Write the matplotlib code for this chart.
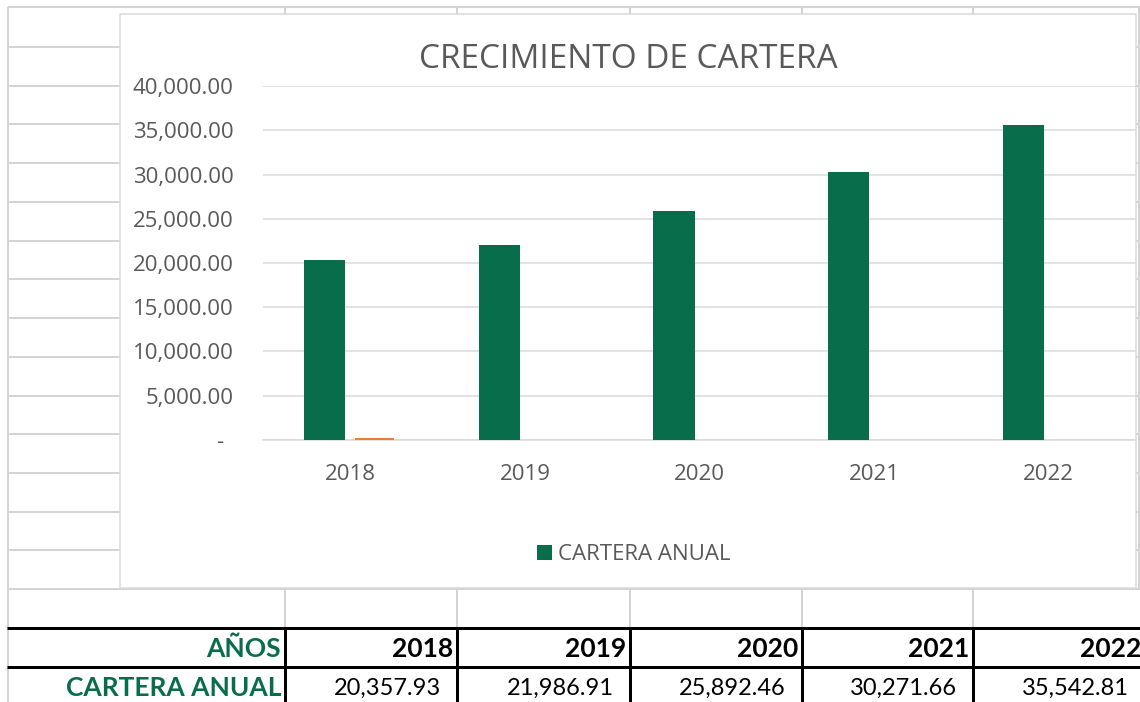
import matplotlib
matplotlib.use("Agg")
import matplotlib.pyplot as plt
import numpy as np
from matplotlib.patches import Rectangle
from matplotlib.transforms import ScaledTranslation

# ---------------- data ----------------
years = ["2018", "2019", "2020", "2021", "2022"]
cartera_anual = [20357.93, 21986.91, 25892.46, 30271.66, 35542.81]
serie_2 = [250, 0, 0, 0, 0]
y_ticks = [0, 5000, 10000, 15000, 20000, 25000, 30000, 35000, 40000]
chart_title = "CRECIMIENTO DE CARTERA"
series_name = "CARTERA ANUAL"
row_header = "AÑOS"

# ---------------- style ----------------
plt.rcParams['font.family'] = ['Open Sans', 'DejaVu Sans']
GREEN = '#076D4B'
ORANGE = '#ED7D31'
TXT = '#595959'
SHEET = '#D4D4D4'
GRIDC = '#D9D9D9'
PX = 0.72  # points per pixel at dpi 100

W, H = 1140, 702
fig = plt.figure(figsize=(W / 100, H / 100), dpi=100)

# background: spreadsheet grid in pixel coordinates
bg = fig.add_axes([0, 0, 1, 1], zorder=0)
bg.set_xlim(0, W)
bg.set_ylim(H, 0)
bg.axis('off')

row_y = 47 + 38.73 * np.arange(15)
col_x = [285, 457, 630, 802, 973]
col_right = [457, 630, 802, 973, 1145]

bg.hlines(7, 8, W, color=SHEET, lw=2 * PX)
bg.vlines(8, 7, H, color=SHEET, lw=2 * PX)
bg.hlines(row_y, 8, 120, color=SHEET, lw=2 * PX)
bg.hlines(row_y, 1136, W, color=SHEET, lw=2 * PX)
bg.hlines(589, 8, W, color=SHEET, lw=2 * PX)
bg.vlines(col_x, 7, 14, color=SHEET, lw=2 * PX)
bg.vlines(col_x, 589, 628, color=SHEET, lw=2 * PX)
bg.vlines(1139, 7, 589, color=SHEET, lw=2 * PX)

# chart area box
bg.add_patch(Rectangle((120, 14), 1016, 574, facecolor='white',
                       edgecolor=GRIDC, lw=1.5 * PX, zorder=2))

# table with thick borders
bg.hlines([628, 667], 7, W, color='black', lw=3 * PX, zorder=3)
bg.vlines(col_x, 628, H, color='black', lw=3 * PX, zorder=3)

TFONT = ['Lato', 'DejaVu Sans']
bg.text(281, 649, row_header, ha='right', va='center', fontsize=19,
        fontweight='bold', color=GREEN, family=TFONT, zorder=4)
bg.text(281, 688, series_name, ha='right', va='center', fontsize=19,
        fontweight='bold', color=GREEN, family=TFONT, zorder=4)
for i, (yr, val) in enumerate(zip(years, cartera_anual)):
    bg.text(col_right[i] - 4, 649, yr, ha='right', va='center', fontsize=19,
            fontweight='bold', color='black', family=TFONT, zorder=4)
    bg.text(col_right[i] - 16, 688, f"{val:,.2f}", ha='right', va='center',
            fontsize=17, color='black', family=TFONT, zorder=4)

# title
fig.text(628 / W, 1 - 59 / H, chart_title, ha='center', va='center',
         fontsize=24, color=TXT)

# ---------------- chart ----------------
ax = fig.add_axes([263 / W, 1 - 440 / H, (1136 - 263) / W, (440 - 86) / H], zorder=5)
ax.patch.set_visible(False)
x = np.arange(len(years))
bars = ax.bar(x - 0.146, cartera_anual, width=0.235, color=GREEN, zorder=3,
              label=series_name)
ax.bar(x + 0.139, serie_2, width=0.225, color=ORANGE, zorder=3)

ax.set_xlim(-0.5, len(years) - 0.5)
ax.set_ylim(y_ticks[0], y_ticks[-1])
ax.set_yticks(y_ticks)
ax.set_yticklabels([f"{v:,.2f}" if v else "-" for v in y_ticks])
ax.set_xticks(x)
ax.set_xticklabels(years)
ax.grid(axis='y', color=GRIDC, lw=1.5 * PX)
ax.set_axisbelow(True)
for s in ['top', 'right', 'left']:
    ax.spines[s].set_visible(False)
ax.spines['bottom'].set_color(GRIDC)
ax.spines['bottom'].set_linewidth(1.5 * PX)
ax.tick_params(axis='both', length=0, labelsize=16, labelcolor=TXT)
ax.tick_params(axis='y', pad=21)
ax.tick_params(axis='x', pad=17)

zero_lbl = ax.yaxis.get_major_ticks()[0].label1
zero_lbl.set_transform(zero_lbl.get_transform() +
                       ScaledTranslation(-11 / 100, 0, fig.dpi_scale_trans))

ax.legend(handles=[bars], loc='center', bbox_to_anchor=(634 / W, 1 - 555 / H),
          bbox_transform=fig.transFigure, frameon=False, fontsize=16,
          labelcolor=TXT, handlelength=0.64, handleheight=0.64,
          handletextpad=0.3)

fig.savefig('out.png', dpi=100)
